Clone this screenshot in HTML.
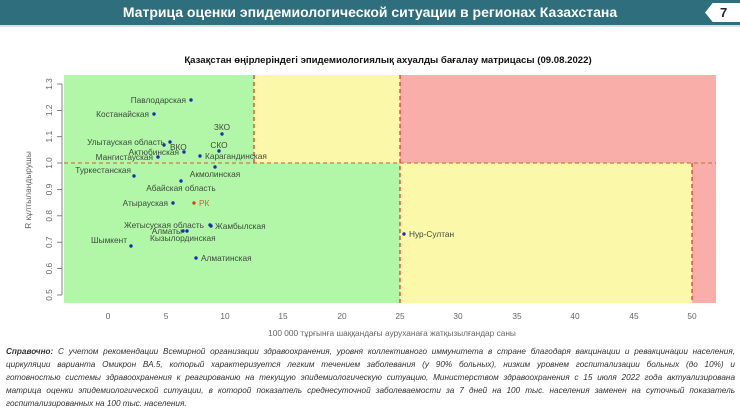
<!DOCTYPE html>
<html><head><meta charset="utf-8"><style>
html,body{margin:0;padding:0;background:#fff;}
body{width:740px;height:411px;position:relative;overflow:hidden;font-family:"Liberation Sans",sans-serif;}
.hdr{position:absolute;left:0;top:0;width:740px;height:25px;background:#2f6e7d;border-bottom:2px solid #d6e3e6;}
.hdr .t{position:absolute;left:0;width:740px;top:4px;text-align:center;color:#fff;font-weight:bold;font-size:14px;}
.num{position:absolute;left:705px;top:3px;width:35px;height:19px;background:#fff;clip-path:polygon(22% 0,100% 0,100% 100%,22% 100%,0 50%);}
.num span{position:absolute;left:15px;top:2px;font-weight:bold;font-size:13px;color:#222;}
.foot{position:absolute;left:6px;top:345px;width:729px;font-size:8.2px;line-height:13px;font-style:italic;color:#333;}
.foot div{text-align:justify;text-align-last:justify;white-space:nowrap;overflow:hidden;}
.foot div.l{text-align-last:left;}
</style></head><body>
<div class="hdr"><div class="t">Матрица оценки эпидемиологической ситуации в регионах Казахстана</div></div>
<div class="num"><span>7</span></div>
<svg style="position:absolute;left:0;top:0" width="740" height="411" font-family="Liberation Sans, sans-serif">
<text x="388" y="63" text-anchor="middle" font-size="9.6" font-weight="bold" fill="#111">Қазақстан өңірлеріндегі эпидемиологиялық ахуалды бағалау матрицасы  (09.08.2022)</text>
<rect x="64" y="75" width="652" height="228" fill="#b1f7a7"/>
<rect x="254" y="75" width="146" height="88" fill="#fcf8a9"/>
<rect x="400" y="75" width="316" height="88" fill="#f9aeaa"/>
<rect x="400" y="163" width="292" height="140" fill="#fcf8a9"/>
<rect x="692" y="163" width="24" height="140" fill="#f9aeaa"/>
<line x1="64" y1="163" x2="716" y2="163" stroke="#c9803f" stroke-width="1.2" stroke-dasharray="4,3"/>
<line x1="254" y1="75" x2="254" y2="163" stroke="#d83030" stroke-width="1.2" stroke-dasharray="4,3"/>
<line x1="400" y1="75" x2="400" y2="303" stroke="#d83030" stroke-width="1.2" stroke-dasharray="4,3"/>
<line x1="692" y1="163" x2="692" y2="303" stroke="#d83030" stroke-width="1.2" stroke-dasharray="4,3"/>
<g stroke="#666" stroke-width="0.8">
<line x1="62" y1="84" x2="62" y2="295"/>
<line x1="57" y1="84" x2="62" y2="84"/><line x1="57" y1="110.4" x2="62" y2="110.4"/><line x1="57" y1="136.7" x2="62" y2="136.7"/><line x1="57" y1="163" x2="62" y2="163"/><line x1="57" y1="189.5" x2="62" y2="189.5"/><line x1="57" y1="215.8" x2="62" y2="215.8"/><line x1="57" y1="242.2" x2="62" y2="242.2"/><line x1="57" y1="268.6" x2="62" y2="268.6"/><line x1="57" y1="295" x2="62" y2="295"/>
</g>
<g font-size="8.3" fill="#666" text-anchor="middle">
<text transform="translate(49,84) rotate(-90)" dy="3">1.3</text>
<text transform="translate(49,110.4) rotate(-90)" dy="3">1.2</text>
<text transform="translate(49,136.7) rotate(-90)" dy="3">1.1</text>
<text transform="translate(49,163) rotate(-90)" dy="3">1.0</text>
<text transform="translate(49,189.5) rotate(-90)" dy="3">0.9</text>
<text transform="translate(49,215.8) rotate(-90)" dy="3">0.8</text>
<text transform="translate(49,242.2) rotate(-90)" dy="3">0.7</text>
<text transform="translate(49,268.6) rotate(-90)" dy="3">0.6</text>
<text transform="translate(49,295) rotate(-90)" dy="3">0.5</text>
<text transform="translate(31,190) rotate(-90)" font-size="8.4">R кұлтыландырушы</text>
<text x="108" y="319">0</text><text x="166" y="319">5</text><text x="225" y="319">10</text><text x="283" y="319">15</text><text x="342" y="319">20</text><text x="400" y="319">25</text><text x="458" y="319">30</text><text x="517" y="319">35</text><text x="575" y="319">40</text><text x="634" y="319">45</text><text x="692" y="319">50</text>
<text x="392" y="336" font-size="8.3">100 000 тұрғынға шаққандағы ауруханаға жатқызылғандар саны</text>
</g>
<g fill="#1a2fb0">
<circle cx="191" cy="100" r="1.7"/><circle cx="154" cy="114" r="1.7"/><circle cx="222" cy="134" r="1.7"/><circle cx="170" cy="142" r="1.7"/><circle cx="164" cy="145" r="1.7"/><circle cx="219" cy="151" r="1.7"/><circle cx="184" cy="152" r="1.7"/><circle cx="158" cy="157" r="1.7"/><circle cx="200" cy="156" r="1.7"/><circle cx="134" cy="176" r="1.7"/><circle cx="215" cy="167" r="1.7"/><circle cx="181" cy="181" r="1.7"/><circle cx="173" cy="203" r="1.7"/><circle cx="210" cy="225" r="1.7"/><circle cx="211" cy="226" r="1.7"/><circle cx="187" cy="231" r="1.7"/><circle cx="183" cy="231" r="1.7"/><circle cx="131" cy="246" r="1.7"/><circle cx="196" cy="258" r="1.7"/><circle cx="404" cy="234" r="1.7"/>
</g>
<circle cx="194" cy="203" r="1.7" fill="#e04020"/>
<g font-size="8.3" fill="#3d4a3d">
<text x="186" y="103" text-anchor="end">Павлодарская</text>
<text x="149" y="117" text-anchor="end">Костанайская</text>
<text x="222" y="130" text-anchor="middle">ЗКО</text>
<text x="165" y="145" text-anchor="end">Улытауская область</text>
<text x="170" y="150">ВКО</text>
<text x="219" y="148" text-anchor="middle">СКО</text>
<text x="179" y="155" text-anchor="end">Актюбинская</text>
<text x="153" y="160" text-anchor="end">Мангистауская</text>
<text x="205" y="159">Карагандинская</text>
<text x="131" y="173" text-anchor="end">Туркестанская</text>
<text x="215" y="177" text-anchor="middle">Акмолинская</text>
<text x="181" y="191" text-anchor="middle">Абайская область</text>
<text x="168" y="206" text-anchor="end">Атырауская</text>
<text x="199" y="206" fill="#d0603a">РК</text>
<text x="204" y="228" text-anchor="end">Жетысуская область</text>
<text x="215" y="229">Жамбылская</text>
<text x="182" y="234" text-anchor="end">Алматы</text>
<text x="150" y="241">Кызылординская</text>
<text x="127" y="243" text-anchor="end">Шымкент</text>
<text x="201" y="261">Алматинская</text>
<text x="409" y="237">Нур-Султан</text>
</g>
</svg>
<div class="foot">
<div><b>Справочно:</b> С учетом рекомендации Всемирной организации здравоохранения, уровня коллективного иммунитета в стране благодаря вакцинации и ревакцинации населения,</div>
<div>циркуляции варианта Омикрон ВА.5, который характеризуется легким течением заболевания (у 90% больных), низким уровнем госпитализации больных (до 10%) и</div>
<div>готовностью системы здравоохранения к реагированию на текущую эпидемиологическую ситуацию, Министерством здравоохранения с 15 июля 2022 года актуализирована</div>
<div>матрица оценки эпидемиологической ситуации, в которой показатель  среднесуточной заболеваемости за 7 дней на 100 тыс. населения заменен на  суточный показатель</div>
<div class="l">госпитализированных на 100 тыс. населения.</div>
</div>
</body></html>
